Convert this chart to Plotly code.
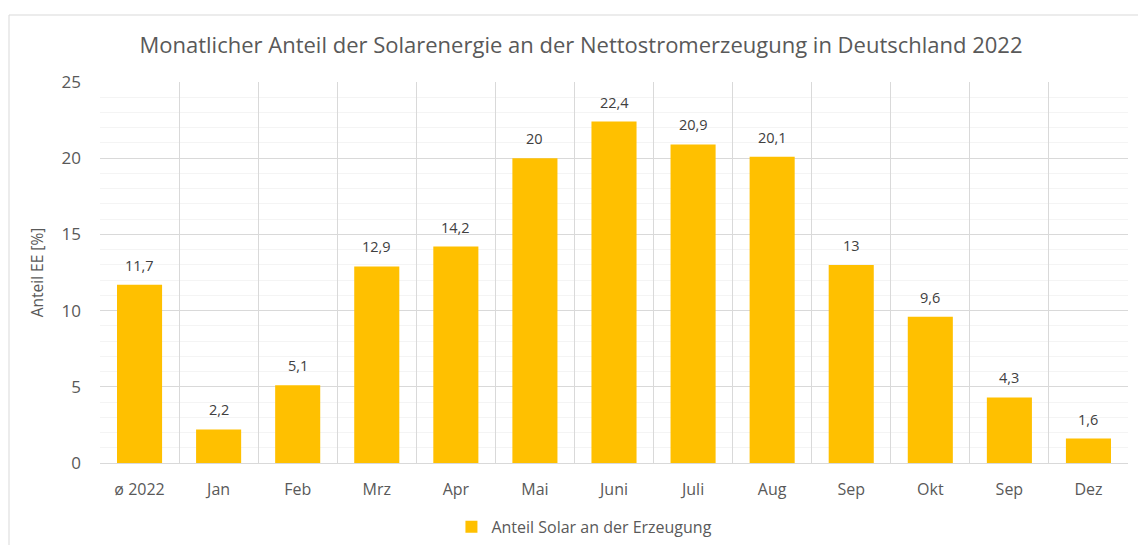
import plotly.graph_objects as go

categories = ["ø 2022", "Jan", "Feb", "Mrz", "Apr", "Mai", "Juni", "Juli", "Aug", "Sep", "Okt", "Sep ", "Dez"]
tick_labels = ["ø 2022", "Jan", "Feb", "Mrz", "Apr", "Mai", "Juni", "Juli", "Aug", "Sep", "Okt", "Sep", "Dez"]
values = [11.7, 2.2, 5.1, 12.9, 14.2, 20, 22.4, 20.9, 20.1, 13, 9.6, 4.3, 1.6]
labels = [str(v).replace(".", ",") for v in values]

FONT = "Open Sans"
fig = go.Figure()
fig.add_trace(go.Bar(
    x=categories, y=values, name="Anteil Solar an der Erzeugung",
    marker=dict(color="#FFC000", line=dict(width=0)),
    width=0.57,
))
for c, v, t in zip(categories, values, labels):
    fig.add_annotation(x=c, y=v, text=t, showarrow=False, yanchor="bottom", yshift=8,
                       font=dict(size=14.5, color="#404040", family=FONT))

fig.update_layout(
    width=1146, height=545,
    paper_bgcolor="white", plot_bgcolor="white",
    margin=dict(l=92, r=26, t=74, b=90, autoexpand=False),
    font=dict(family=FONT, color="#595959"),
    title=dict(text="Monatlicher Anteil der Solarenergie an der Nettostromerzeugung in Deutschland 2022",
               x=0.5, xanchor="center", xref="container", y=0.932, yanchor="middle",
               font=dict(size=22, color="#595959", family=FONT)),
    showlegend=True,
    legend=dict(orientation="h", xref="container", yref="container", x=0.503, xanchor="center",
                y=0.048, yanchor="middle", bgcolor="rgba(0,0,0,0)",
                font=dict(size=16, color="#595959"), itemwidth=30),
)
fig.update_xaxes(
    type="category", tickson="boundaries", tickvals=categories, ticktext=tick_labels,
    showgrid=True, gridcolor="#d9d9d9", gridwidth=1,
    showline=True, linecolor="#d9d9d9", ticks="",
    tickfont=dict(size=16, color="#595959"), ticklabelstandoff=12,
    automargin=False,
)
fig.update_yaxes(
    range=[0, 25], dtick=5, showgrid=True, gridcolor="#d9d9d9", gridwidth=1,
    zeroline=False, showline=False, ticks="",
    tickfont=dict(size=17, color="#595959"), ticklabelstandoff=18,
    minor=dict(dtick=1, showgrid=True, gridcolor="#f4f4f4", gridwidth=1),
    title=dict(text="Anteil EE [%]", font=dict(size=15.5, color="#595959"), standoff=14),
    automargin=False,
)
# outer chart border
fig.add_shape(type="rect", xref="paper", yref="paper",
              x0=(1 - 92) / 1028, x1=(1132 - 92) / 1028,
              y0=(90 - 560) / 381, y1=(545 - 7 - 90) / 381,
              line=dict(color="#d9d9d9", width=1), fillcolor="rgba(0,0,0,0)", layer="below")
fig.write_html("out.html")
